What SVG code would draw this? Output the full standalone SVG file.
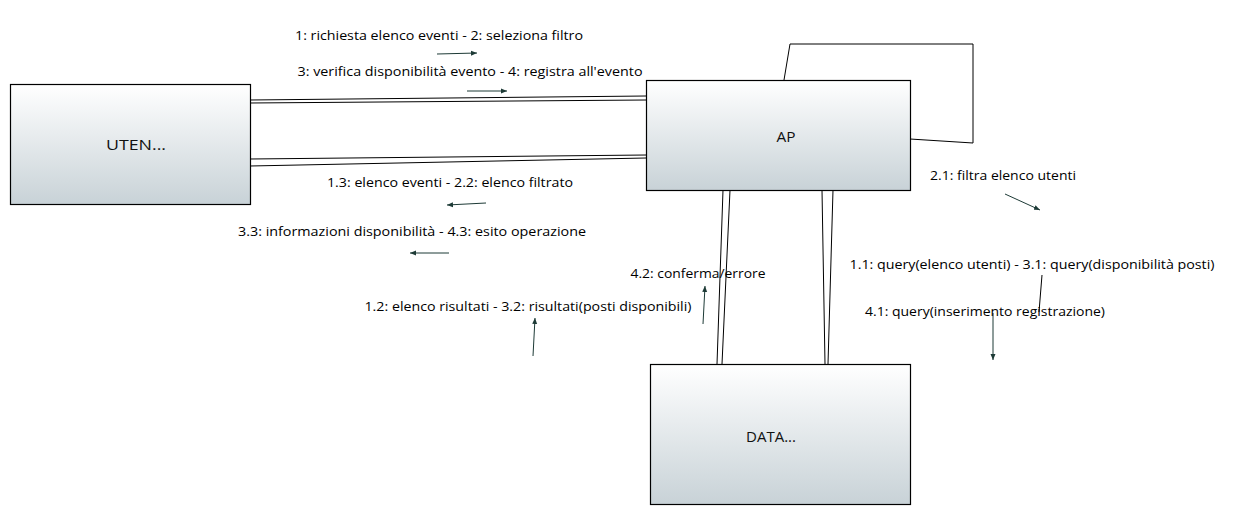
<svg xmlns="http://www.w3.org/2000/svg" width="1238" height="515" viewBox="0 0 1238 515">
<style>
.node{stroke:#000;stroke-width:1.2}
.conn{stroke:#000;stroke-width:1;fill:none}
.msg{stroke:#1d3a36;stroke-width:1;fill:none;marker-end:url(#ah)}
text{font-family:"Open Sans","Noto Sans","DejaVu Sans",sans-serif;font-size:13.5px;fill:#000;text-anchor:middle}
.lbl{font-size:14.5px;fill:#111}
</style>
<defs>
<linearGradient id="g" x1="0" y1="0" x2="0" y2="1">
<stop offset="0" stop-color="#ffffff"/>
<stop offset="1" stop-color="#c8d2d7"/>
</linearGradient>
<marker id="ah" markerUnits="userSpaceOnUse" markerWidth="7" markerHeight="6" refX="6" refY="3" orient="auto">
<path d="M0,0.5 L6,3 L0,5.5 Z" fill="#1d3a36"/>
</marker>
</defs>
<rect width="1238" height="515" fill="#fff"/>
<g id="connectors">
<line class="conn" x1="250" y1="100" x2="646" y2="96"/>
<line class="conn" x1="250" y1="103" x2="646" y2="100"/>
<line class="conn" x1="250" y1="159" x2="646" y2="155"/>
<line class="conn" x1="250" y1="166" x2="646" y2="158"/>
<polyline class="conn" points="784,80 790,44 973,44 973,143 910,139"/>
<line class="conn" x1="723" y1="190" x2="717" y2="364"/>
<line class="conn" x1="730" y1="190" x2="722" y2="364"/>
<line class="conn" x1="822" y1="190" x2="825" y2="364"/>
<line class="conn" x1="833" y1="190" x2="828" y2="364"/>
<line class="msg" x1="437" y1="54" x2="477" y2="53"/>
<line class="msg" x1="467" y1="91" x2="507" y2="91"/>
<line class="msg" x1="486" y1="203" x2="447" y2="205"/>
<line class="msg" x1="449" y1="253" x2="410" y2="253"/>
<line class="msg" x1="533" y1="356" x2="535" y2="318"/>
<line class="msg" x1="703" y1="324" x2="705" y2="286"/>
<line class="msg" x1="1005" y1="194" x2="1040" y2="210"/>
<line class="conn" x1="1042" y1="275" x2="1039" y2="312"/>
<line class="msg" x1="993" y1="313" x2="993" y2="360"/>
<text x="439" y="40" textLength="288" lengthAdjust="spacingAndGlyphs">1: richiesta elenco eventi - 2: seleziona filtro</text>
<text x="470" y="76" textLength="345" lengthAdjust="spacingAndGlyphs">3: verifica disponibilità evento - 4: registra all'evento</text>
<text x="450" y="187" textLength="246" lengthAdjust="spacingAndGlyphs">1.3: elenco eventi - 2.2: elenco filtrato</text>
<text x="412" y="236" textLength="348" lengthAdjust="spacingAndGlyphs">3.3: informazioni disponibilità - 4.3: esito operazione</text>
<text x="698" y="278" textLength="135" lengthAdjust="spacingAndGlyphs">4.2: conferma/errore</text>
<text x="528" y="311" textLength="327" lengthAdjust="spacingAndGlyphs">1.2: elenco risultati - 3.2: risultati(posti disponibili)</text>
<text x="1003" y="180" textLength="146" lengthAdjust="spacingAndGlyphs">2.1: filtra elenco utenti</text>
<text x="1032" y="269" textLength="365" lengthAdjust="spacingAndGlyphs">1.1: query(elenco utenti) - 3.1: query(disponibilità posti)</text>
<text x="985" y="316" textLength="240" lengthAdjust="spacingAndGlyphs">4.1: query(inserimento registrazione)</text>
</g>
<g id="UTEN">
<rect class="node" x="10.5" y="84.5" width="240" height="120" fill="url(#g)"/>
<text class="lbl" x="136" y="150" textLength="60" lengthAdjust="spacingAndGlyphs">UTEN...</text>
</g>
<g id="AP">
<rect class="node" x="646.5" y="80.5" width="264" height="110" fill="url(#g)"/>
<text class="lbl" x="786" y="142" textLength="19" lengthAdjust="spacingAndGlyphs">AP</text>
</g>
<g id="DATA">
<rect class="node" x="650.5" y="364.5" width="260" height="140" fill="url(#g)"/>
<text class="lbl" x="771" y="442" textLength="50" lengthAdjust="spacingAndGlyphs">DATA...</text>
</g>
</svg>
